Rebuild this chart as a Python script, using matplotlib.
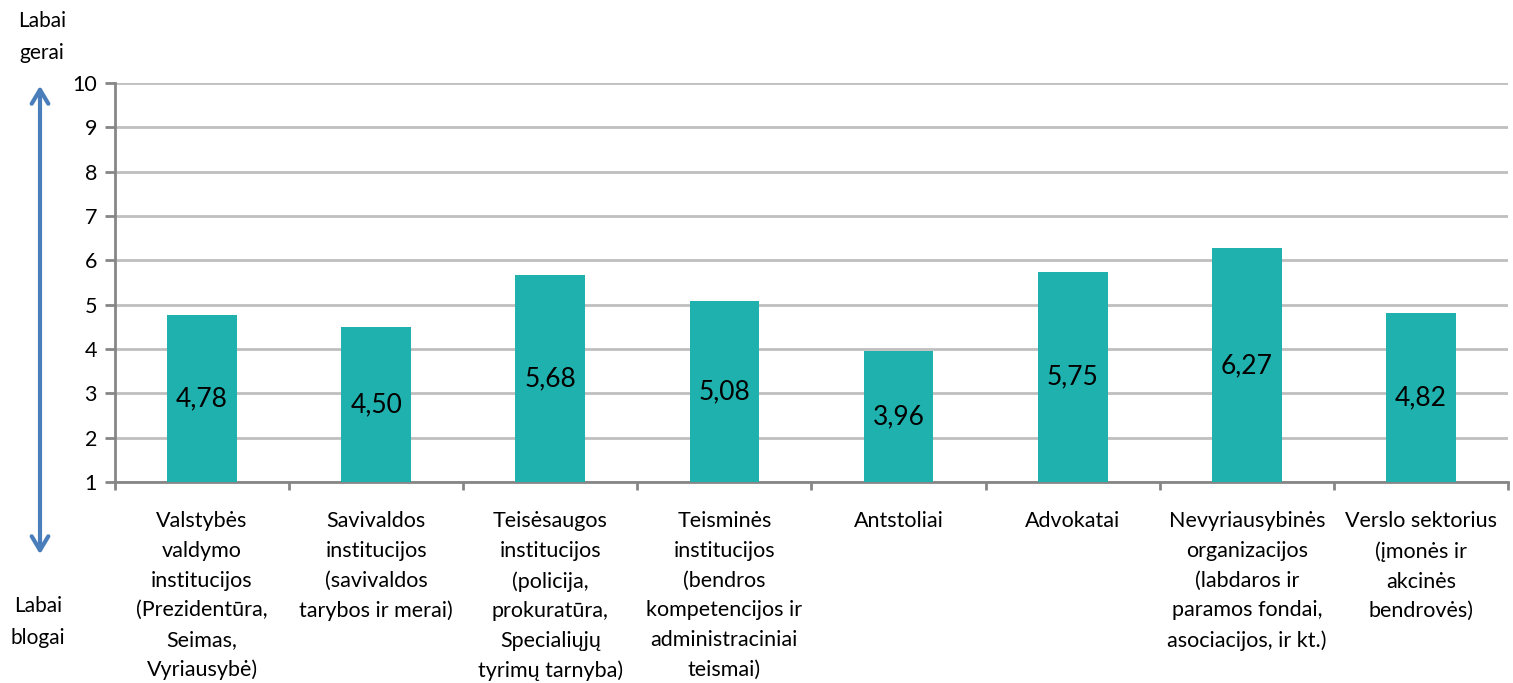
import numpy as np
import matplotlib
matplotlib.use("Agg")
import matplotlib.pyplot as plt

plt.rcParams['font.family'] = ['Lato', 'DejaVu Sans']

# duomenys
categories = [
    "Valstybės\nvaldymo\ninstitucijos\n(Prezidentūra,\nSeimas,\nVyriausybė)",
    "Savivaldos\ninstitucijos\n(savivaldos\ntarybos ir merai)",
    "Teisėsaugos\ninstitucijos\n(policija,\nprokuratūra,\nSpecialiųjų\ntyrimų tarnyba)",
    "Teisminės\ninstitucijos\n(bendros\nkompetencijos ir\nadministraciniai\nteismai)",
    "Antstoliai",
    "Advokatai",
    "Nevyriausybinės\norganizacijos\n(labdaros ir\nparamos fondai,\nasociacijos, ir kt.)",
    "Verslo sektorius\n(įmonės ir\nakcinės\nbendrovės)",
]
values = [4.78, 4.50, 5.68, 5.08, 3.96, 5.75, 6.27, 4.82]
y_ticks = [1, 2, 3, 4, 5, 6, 7, 8, 9, 10]

bar_color = '#1fb1ae'
grid_color = '#bfbfbf'
axis_color = '#868686'

fig = plt.figure(figsize=(15.13, 6.83), dpi=100)
ax = fig.add_axes([0.076, 0.294, 0.9207, 0.5845])

x = np.arange(len(values))
base = y_ticks[0]
heights = [v - base for v in values]
ax.bar(x, heights, bottom=base, width=0.40, color=bar_color, zorder=3)

for xi, v in zip(x, values):
    ax.text(xi, (v + base) / 2, f"{v:.2f}".replace('.', ','),
            ha='center', va='center', fontsize=19, color='black', zorder=4)

ax.set_xlim(-0.5, len(values) - 0.5)
ax.set_ylim(1, 10)
ax.set_yticks(y_ticks)
ax.set_yticklabels([str(t) for t in y_ticks], fontsize=15.5)
ax.yaxis.grid(True, color=grid_color, linewidth=2, zorder=0)
ax.set_axisbelow(True)

# x ašies žymės tarp kategorijų
ax.set_xticks(np.arange(len(values) + 1) - 0.5)
ax.set_xticklabels([])
ax.set_xticks(x, minor=True)
ax.set_xticklabels(categories, minor=True, fontsize=15.5, linespacing=1.6, va='top')
ax.tick_params(axis='x', which='minor', length=0, pad=21)
ax.tick_params(axis='x', which='major', length=6, width=2, color=axis_color)
ax.tick_params(axis='y', length=7, width=2, color=axis_color, pad=6)

for side in ['top', 'right']:
    ax.spines[side].set_visible(False)
for side in ['left', 'bottom']:
    ax.spines[side].set_color(axis_color)
    ax.spines[side].set_linewidth(2)

# rodyklė ir užrašai kairėje
fig.patches.append(matplotlib.patches.FancyArrowPatch(
    (40 / 1513, 1 - 83 / 683), (40 / 1513, 1 - 557 / 683),
    transform=fig.transFigure, arrowstyle='<->,head_length=10,head_width=6',
    color='#4a7ebb', linewidth=3, mutation_scale=1))
fig.text(42 / 1513, 1 - 37 / 683, "Labai\ngerai", ha='center', va='center',
         fontsize=15, linespacing=1.8)
fig.text(38 / 1513, 1 - 622 / 683, "Labai\nblogai", ha='center', va='center',
         fontsize=15, linespacing=1.8)

fig.savefig("out.png", dpi=100)
